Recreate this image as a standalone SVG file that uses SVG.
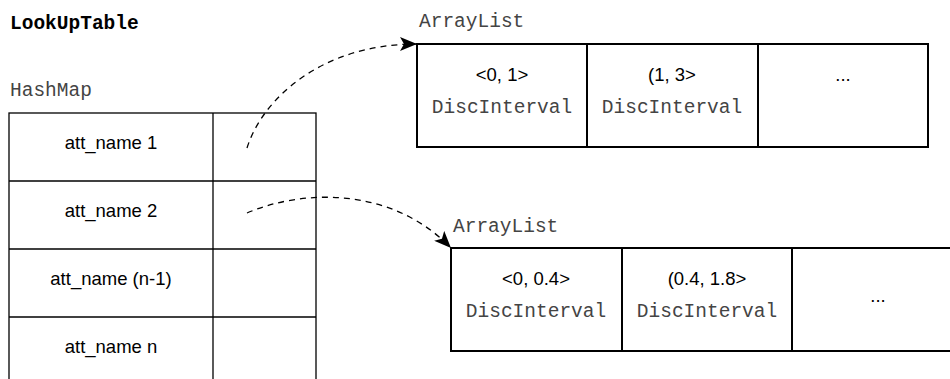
<svg xmlns="http://www.w3.org/2000/svg" width="950" height="379" viewBox="0 0 950 379">
  <style>
    .mono { font-family: "Liberation Mono", "Courier New", monospace; font-size: 19.5px; fill: #444; }
    .title { font-family: "Liberation Mono", "Courier New", monospace; font-size: 19.5px; font-weight: bold; fill: #000; }
    .sans { font-family: "Liberation Sans", Arial, sans-serif; font-size: 18.5px; fill: #000; text-anchor: middle; }
    .cell { font-family: "Liberation Mono", "Courier New", monospace; font-size: 19.5px; fill: #444; text-anchor: middle; }
    .map { fill: #fff; stroke: #000; stroke-width: 1.3; }
    .list { fill: #fff; stroke: #000; stroke-width: 2; }
    .link { fill: none; stroke: #000; stroke-width: 1.3; stroke-dasharray: 6 5; }
  </style>
  <defs>
    <marker id="arrow" markerWidth="18" markerHeight="14" refX="17" refY="7" orient="auto" markerUnits="userSpaceOnUse">
      <path d="M0,0 L17,7 L0,14 L4,7 z" fill="#000"/>
    </marker>
  </defs>
  <rect width="950" height="379" fill="#fff"/>

  <text class="title" x="10" y="29">LookUpTable</text>

  <!-- hash map of attribute names -->
  <g id="hashmap">
    <text class="mono" x="10" y="96">HashMap</text>
    <rect class="map" x="9" y="113" width="307" height="272"/>
    <line class="map" x1="213" y1="113" x2="213" y2="385"/>
    <line class="map" x1="9" y1="181" x2="316" y2="181"/>
    <line class="map" x1="9" y1="249" x2="316" y2="249"/>
    <line class="map" x1="9" y1="317" x2="316" y2="317"/>
    <text class="sans" x="111" y="149">att_name 1</text>
    <text class="sans" x="111" y="217">att_name 2</text>
    <text class="sans" x="111" y="285">att_name (n-1)</text>
    <text class="sans" x="111" y="353">att_name n</text>
  </g>

  <!-- interval list for att_name 1 -->
  <g id="list1">
    <text class="mono" x="419" y="27">ArrayList</text>
    <rect class="list" x="417" y="44" width="511" height="103"/>
    <line class="list" x1="587" y1="44" x2="587" y2="147"/>
    <line class="list" x1="758" y1="44" x2="758" y2="147"/>
    <text class="sans" x="502" y="81">&lt;0, 1&gt;</text>
    <text class="cell" x="502" y="113">DiscInterval</text>
    <text class="sans" x="672" y="81">(1, 3&gt;</text>
    <text class="cell" x="672" y="113">DiscInterval</text>
    <text class="sans" x="843" y="81">...</text>
  </g>

  <!-- interval list for att_name 2 -->
  <g id="list2">
    <text class="mono" x="453" y="232">ArrayList</text>
    <rect class="list" x="451" y="248" width="513" height="103"/>
    <line class="list" x1="622" y1="248" x2="622" y2="351"/>
    <line class="list" x1="792" y1="248" x2="792" y2="351"/>
    <text class="sans" x="536" y="285">&lt;0, 0.4&gt;</text>
    <text class="cell" x="536" y="317">DiscInterval</text>
    <text class="sans" x="707" y="285">(0.4, 1.8&gt;</text>
    <text class="cell" x="707" y="317">DiscInterval</text>
    <text class="sans" x="878" y="302">...</text>
  </g>

  <g id="connectors">
    <path class="link" d="M247,148 C262,100 320,44 417,44" marker-end="url(#arrow)"/>
    <path class="link" d="M247,213 C300,190 390,185 451,248" marker-end="url(#arrow)"/>
  </g>
</svg>
